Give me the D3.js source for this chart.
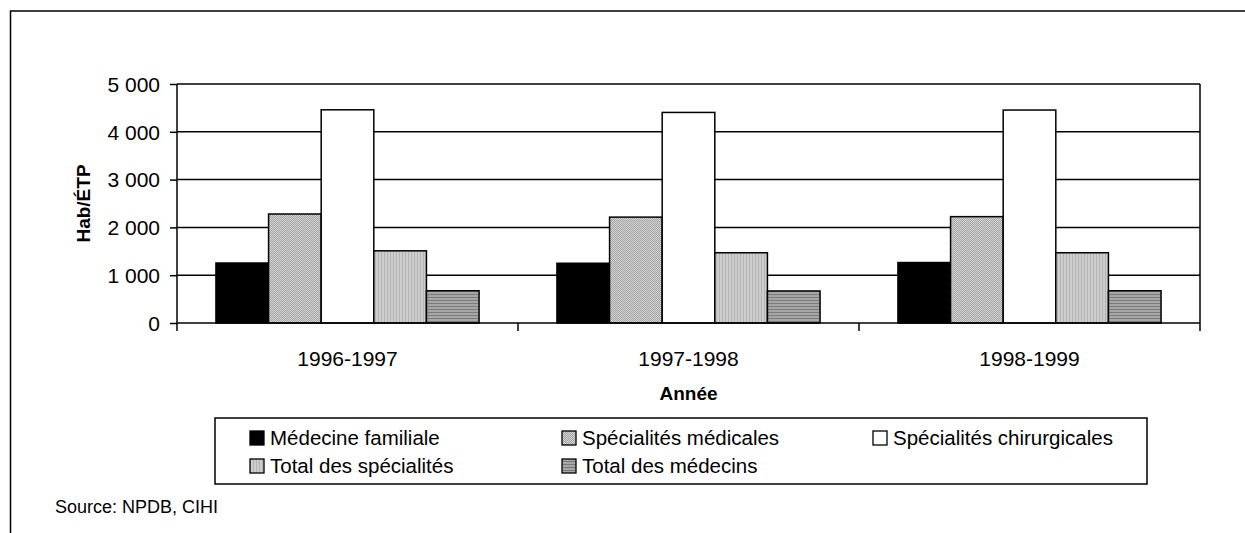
<!DOCTYPE html>
<html>
<head>
<meta charset="utf-8">
<script src="https://cdn.jsdelivr.net/npm/d3@7"></script>
<style>
  html, body { margin: 0; padding: 0; background: #fff; }
  svg { display: block; }
  text { font-family: "Liberation Sans", Arial, Helvetica, sans-serif; fill: #000; }
</style>
</head>
<body>
<svg id="chart" width="1245" height="533"></svg>
<script>
const categories = ["1996-1997", "1997-1998", "1998-1999"];
const seriesNames = ["Médecine familiale", "Spécialités médicales", "Spécialités chirurgicales", "Total des spécialités", "Total des médecins"];
const medecineFamiliale = [1255, 1250, 1265];
const specialitesMedicales = [2280, 2215, 2225];
const specialitesChirurgicales = [4460, 4405, 4455];
const totalSpecialites = [1510, 1470, 1470];
const totalMedecins = [675, 670, 675];
const yTicks = [0, 1000, 2000, 3000, 4000, 5000];
const yTickLabels = ["0", "1 000", "2 000", "3 000", "4 000", "5 000"];

const seriesValues = [medecineFamiliale, specialitesMedicales, specialitesChirurgicales, totalSpecialites, totalMedecins];
const fills = ["#000", "url(#pMed)", "#fff", "url(#pTotSpec)", "url(#pTotMed)"];

const svg = d3.select("#chart");

// patterns
const defs = svg.append("defs");
const p1 = defs.append("pattern").attr("id", "pMed").attr("patternUnits", "userSpaceOnUse").attr("width", 2).attr("height", 2);
p1.append("rect").attr("width", 2).attr("height", 2).attr("fill", "#d6d6d6");
p1.append("rect").attr("width", 1).attr("height", 1).attr("fill", "#a2a2a2");
p1.append("rect").attr("x", 1).attr("y", 1).attr("width", 1).attr("height", 1).attr("fill", "#a2a2a2");
const p2 = defs.append("pattern").attr("id", "pTotSpec").attr("patternUnits", "userSpaceOnUse").attr("width", 3).attr("height", 2);
p2.append("rect").attr("width", 3).attr("height", 2).attr("fill", "#cdcdcd");
p2.append("rect").attr("width", 1).attr("height", 2).attr("fill", "#b4b4b4");
const p3 = defs.append("pattern").attr("id", "pTotMed").attr("patternUnits", "userSpaceOnUse").attr("width", 2).attr("height", 3);
p3.append("rect").attr("width", 2).attr("height", 3).attr("fill", "#a6a6a6");
p3.append("rect").attr("width", 2).attr("height", 1).attr("fill", "#7c7c7c");

// outer frame
svg.append("path").attr("d", "M10.5,540 V11 H1250").attr("fill", "none").attr("stroke", "#000").attr("stroke-width", 1.5);

const pLeft = 177, pRight = 1200, pTop = 84, pBottom = 323;
const x = d3.scaleBand().domain(categories).range([pLeft, pRight]).paddingInner(0).paddingOuter(0);
const xs = d3.scaleBand().domain(seriesNames).range([0, x.bandwidth()]).paddingInner(0).paddingOuter(0.74);
const y = d3.scaleLinear().domain([0, 5000]).range([pBottom, pTop]);

// gridlines
svg.append("g").selectAll("line").data(yTicks.filter(d => d > 0)).join("line")
  .attr("x1", pLeft).attr("x2", pRight)
  .attr("y1", d => y(d)).attr("y2", d => y(d))
  .attr("stroke", "#000").attr("stroke-width", 1.5);
// plot right border
svg.append("line").attr("x1", pRight).attr("x2", pRight).attr("y1", pTop).attr("y2", pBottom)
  .attr("stroke", "#000").attr("stroke-width", 1.5);

// bars
const groups = svg.append("g").selectAll("g").data(categories).join("g")
  .attr("transform", d => `translate(${x(d)},0)`);
groups.selectAll("rect").data((c, ci) => seriesNames.map((s, si) => ({ s, si, v: seriesValues[si][ci] }))).join("rect")
  .attr("x", d => xs(d.s))
  .attr("width", xs.bandwidth())
  .attr("y", d => y(d.v))
  .attr("height", d => y(0) - y(d.v))
  .attr("fill", d => fills[d.si])
  .attr("stroke", "#000").attr("stroke-width", 1.5);

// y axis
const yAxis = d3.axisLeft(y).tickValues(yTicks).tickFormat((d, i) => yTickLabels[i]).tickSize(7).tickPadding(10);
const gy = svg.append("g").attr("transform", `translate(${pLeft},0)`).call(yAxis);
gy.select(".domain").attr("d", `M0,${pTop}V${pBottom}`).attr("stroke-width", 1.5);
gy.selectAll(".tick line").attr("stroke-width", 1.5);
gy.selectAll(".tick text").style("font-size", "21px").style("font-family", '"Liberation Sans", Arial, sans-serif').attr("dy", "0.35em");

// x axis
const gx = svg.append("g").attr("transform", `translate(0,${pBottom})`);
gx.append("line").attr("x1", pLeft).attr("x2", pRight).attr("y1", 0).attr("y2", 0).attr("stroke", "#000").attr("stroke-width", 1.5);
const tickPos = categories.map(c => x(c)).concat([pRight]);
gx.selectAll("line.t").data(tickPos).join("line").attr("class", "t")
  .attr("x1", d => d).attr("x2", d => d).attr("y1", 0).attr("y2", 8)
  .attr("stroke", "#000").attr("stroke-width", 1.5);
gx.selectAll("text").data(categories).join("text")
  .attr("x", d => x(d) + x.bandwidth() / 2).attr("y", 43)
  .attr("text-anchor", "middle").style("font-size", "21px").text(d => d);

// axis titles
svg.append("text").attr("x", (pLeft + pRight) / 2).attr("y", 400).attr("text-anchor", "middle")
  .style("font-size", "19px").style("font-weight", "bold").text("Année");
svg.append("text").attr("transform", `translate(90,${(pTop + pBottom) / 2}) rotate(-90)`).attr("text-anchor", "middle")
  .style("font-size", "19px").style("font-weight", "bold").text("Hab/ÉTP");

// legend
svg.append("rect").attr("x", 215).attr("y", 418).attr("width", 932).attr("height", 66)
  .attr("fill", "#fff").attr("stroke", "#000").attr("stroke-width", 1.5);
const legendPos = [[250, 445], [562, 445], [873, 445], [250, 473], [562, 473]];
const lg = svg.append("g").selectAll("g").data(seriesNames).join("g")
  .attr("transform", (d, i) => `translate(${legendPos[i][0]},${legendPos[i][1]})`);
lg.append("rect").attr("x", 0).attr("y", -14).attr("width", 14).attr("height", 14)
  .attr("fill", (d, i) => fills[i]).attr("stroke", "#000").attr("stroke-width", 1.3);
lg.append("text").attr("x", 20).attr("y", 0).style("font-size", "20.5px").text(d => d);

// source
svg.append("text").attr("x", 55).attr("y", 513).style("font-size", "18px").text("Source: NPDB, CIHI");
</script>
</body>
</html>
